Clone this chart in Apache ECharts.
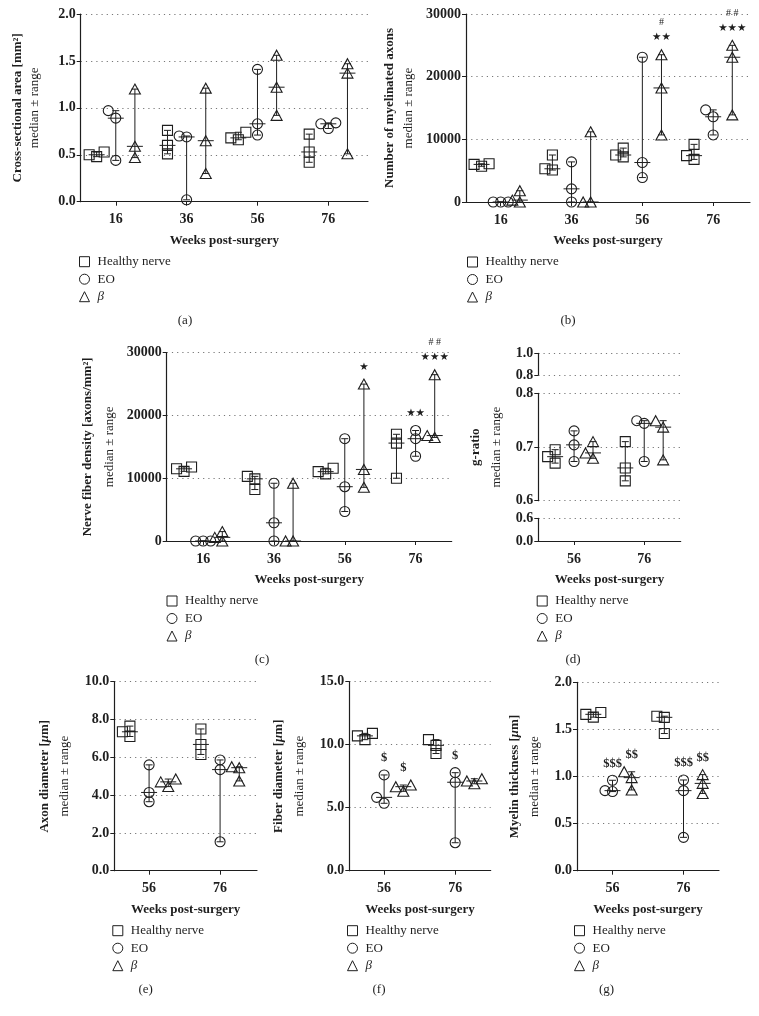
<!DOCTYPE html>
<html>
<head>
<meta charset="utf-8">
<script src="https://cdn.jsdelivr.net/npm/echarts@6/dist/echarts.min.js"></script>
<style>
  html, body { margin: 0; padding: 0; background: #fff; }
  #chart { width: 759px; height: 1016px; }
</style>
</head>
<body>
<div id="chart"></div>
<script>
// groups and time points
const groupNames = ['Healthy nerve', 'EO', 'β'];
const weeksLong = [16, 36, 56, 76];
const weeksShort = [56, 76];

// (a) cross-sectional area [mm²], 3 animals per group and week
const csaHealthy = [[0.48, 0.50, 0.53], [0.51, 0.76, 0.60], [0.66, 0.68, 0.74], [0.42, 0.72, 0.53]];
const csaEO = [[0.97, 0.44, 0.89], [0.69, 0.02, 0.70], [0.71, 1.41, 0.83], [0.84, 0.78, 0.83]];
const csaBeta = [[0.47, 1.20, 0.59], [1.21, 0.65, 0.30], [1.56, 1.22, 0.92], [1.47, 0.51, 1.37]];

// (b) number of myelinated axons
const axHealthy = [[5700, 6000, 6100], [5100, 7500, 5300], [7200, 7500, 8600], [6800, 9200, 7400]];
const axEO = [[0, 0, 0], [0, 6400, 2100], [3900, 23100, 6300], [14700, 10700, 13600]];
const axBeta = [[0, 300, 1800], [0, 11200, 0], [23500, 18200, 10700], [25000, 13900, 23100]];

// (c) nerve fiber density [axons/mm²]
const fdHealthy = [[11100, 11500, 11800], [8200, 9900, 10300], [10700, 11050, 11600], [17000, 10000, 15600]];
const fdEO = [[0, 0, 0], [9200, 2900, 0], [16300, 8650, 4700], [17600, 13500, 16300]];
const fdBeta = [[0, 580, 1500], [0, 9200, 0], [25000, 11400, 8550], [16500, 26500, 16800]];

// (d) g-ratio
const grHealthy = [[0.670, 0.682, 0.695], [0.637, 0.710, 0.661]];
const grEO = [[0.730, 0.673, 0.704], [0.749, 0.673, 0.744]];
const grBeta = [[0.679, 0.710, 0.689], [0.749, 0.676, 0.737]];

// (e) axon diameter [µm]
const adHealthy = [[7.10, 7.35, 7.65], [6.15, 7.50, 6.68]];
const adEO = [[3.65, 5.60, 4.14], [5.86, 1.53, 5.35]];
const adBeta = [[4.45, 4.70, 4.85], [4.75, 5.45, 5.50]];

// (f) fiber diameter [µm]
const fbHealthy = [[10.4, 10.7, 10.9], [9.3, 9.95, 10.4]];
const fbEO = [[5.35, 7.60, 5.82], [7.78, 2.22, 7.02]];
const fbBeta = [[6.30, 6.67, 6.80], [6.90, 7.12, 7.30]];

// (g) myelin thickness [µm]
const mtHealthy = [[1.63, 1.66, 1.68], [1.64, 1.456, 1.628]];
const mtEO = [[0.84, 0.85, 0.96], [0.963, 0.354, 0.85]];
const mtBeta = [[0.857, 1.05, 0.988], [0.82, 1.02, 0.927]];

// significance marks (group index into groupNames)
const annB = [{ week: 56, group: 2, marks: ['★★', '#'] }, { week: 76, group: 2, marks: ['★★★', '# #'] }];
const annC = [{ week: 56, group: 2, marks: ['★'] }, { week: 76, group: 1, marks: ['★★'] }, { week: 76, group: 2, marks: ['★★★', '# #'] }];
const annF = [{ week: 56, group: 1, marks: ['$'] }, { week: 56, group: 2, marks: ['$'] }, { week: 76, group: 1, marks: ['$'] }];
const annG = [{ week: 56, group: 1, marks: ['$$$'] }, { week: 56, group: 2, marks: ['$$'] }, { week: 76, group: 1, marks: ['$$$'] }, { week: 76, group: 2, marks: ['$$'] }];

const ink = '#1e1e1e';
const serif = '"Liberation Serif", "Times New Roman", serif';
const shift = [-5.4, 0, 5.4];           // sub-group offset around the week, in weeks
const symbols = ['rect', 'circle', 'triangle'];
const symbolSizes = [10, 10, [11, 10]];

const panels = [
    { label: '(a)', labelX: 185, legendX: 84, titleX: [17.3, 35], title: '{b|Cross-sectional area [mm²]}',
      weeks: weeksLong, data: [csaHealthy, csaEO, csaBeta], ann: [], left: 80.7, width: 287.3, xMin: 6.1, xMax: 87.2, digits: 1,
      segs: [{ top: 14, height: 187.7, min: 0, max: 2, interval: 0.5, data: true, axis: true }] },
    { label: '(b)', labelX: 568, legendX: 472, titleX: [390, 408.3], title: '{b|Number of myelinated axons}',
      weeks: weeksLong, data: [axHealthy, axEO, axBeta], ann: annB, left: 466, width: 284, xMin: 6.2, xMax: 86.4, digits: 0,
      segs: [{ top: 14, height: 188, min: 0, max: 30000, interval: 10000, data: true, axis: true }] },
    { label: '(c)', labelX: 262, legendX: 171.5, titleX: [87.3, 110], title: '{b|Nerve fiber density [axons/mm²]}',
      weeks: weeksLong, data: [fdHealthy, fdEO, fdBeta], ann: annC, left: 166.7, width: 285, xMin: 5.7, xMax: 86.2, digits: 0,
      segs: [{ top: 352.7, height: 188.3, min: 0, max: 30000, interval: 10000, data: true, axis: true }] },
    { label: '(d)', labelX: 573, legendX: 541.7, titleX: [476, 496.7], title: '{b|g-ratio}',
      weeks: weeksShort, data: [grHealthy, grEO, grBeta], ann: [], left: 538.3, width: 142.4, xMin: 45.8, xMax: 86.4, digits: 1,
      segs: [
          { top: 353.3, height: 21.7, min: 0.8, max: 1.0, interval: 0.2 },
          { top: 393.3, height: 107.4, min: 0.6, max: 0.8, interval: 0.1, data: true },
          { top: 518.3, height: 22.7, min: 0, max: 0.6, interval: 0.6, axis: true }
      ] },
    { label: '(e)', labelX: 145.7, legendX: 117.3, titleX: [45, 65], title: '{b|Axon diameter [}{bi|μ}{b|m]}',
      weeks: weeksShort, data: [adHealthy, adEO, adBeta], ann: [], left: 114.3, width: 142.7, xMin: 46.2, xMax: 86.4, digits: 1,
      segs: [{ top: 681.7, height: 189, min: 0, max: 10, interval: 2, data: true, axis: true }] },
    { label: '(f)', labelX: 379, legendX: 352, titleX: [278.3, 299.3], title: '{b|Fiber diameter [}{bi|μ}{b|m]}',
      weeks: weeksShort, data: [fbHealthy, fbEO, fbBeta], ann: annF, left: 349.3, width: 141.4, xMin: 46.2, xMax: 86, digits: 1,
      segs: [{ top: 681.7, height: 189, min: 0, max: 15, interval: 5, data: true, axis: true }] },
    { label: '(g)', labelX: 606.5, legendX: 579, titleX: [515, 534.3], title: '{b|Myelin thickness [}{bi|μ}{b|m]}',
      weeks: weeksShort, data: [mtHealthy, mtEO, mtBeta], ann: annG, left: 577, width: 142, xMin: 46, xMax: 86, digits: 1,
      segs: [{ top: 682.3, height: 188.4, min: 0, max: 2, interval: 0.5, data: true, axis: true }] }
];

const grid = [], xAxis = [], yAxis = [], series = [], legend = [], graphic = [];

function median(vals) {
    const s = vals.slice().sort((a, b) => a - b);
    return s[Math.floor(s.length / 2)];
}

// small beeswarm: symbols closer than ~8px are pushed to one side (pixel offsets -> weeks)
function swarm(vals, pxX, pxY) {
    const placed = [];
    const offs = vals.map(() => 0);
    const order = vals.map((v, i) => i).sort((i, j) => vals[i] - vals[j]);
    order.forEach(i => {
        let pick = 0, best = -1;
        for (const c of [0, -7.5, 7.5]) {
            const d = Math.min(Infinity, ...placed.map(p => Math.hypot(p.x - c, (p.v - vals[i]) * pxY)));
            if (d >= 8) { pick = c; break; }
            if (d > best) { best = d; pick = c; }
        }
        placed.push({ x: pick, v: vals[i] });
        offs[i] = pick / pxX;
    });
    return offs;
}

function markFont(m) {
    if (m.indexOf('★') >= 0) return { fontFamily: '"DejaVu Sans", sans-serif', fontSize: 10.5 };
    if (m.indexOf('#') >= 0) return { fontFamily: serif, fontSize: 10 };
    return { fontFamily: serif, fontSize: 12.5, fontWeight: 'bold' };
}

panels.forEach(p => {
    let dataIdx = 0, bottom = 0;
    p.segs.forEach(seg => {
        const gi = grid.length;
        grid.push({ left: p.left, top: seg.top, width: p.width, height: seg.height, containLabel: false });
        if (seg.data) dataIdx = gi;
        if (seg.axis) bottom = seg.top + seg.height;
        xAxis.push({
            gridIndex: gi, type: 'value', min: p.xMin, max: p.xMax, show: !!seg.axis,
            axisLine: { show: true, onZero: false, lineStyle: { color: ink, width: 1.2 } },
            axisTick: { show: true, length: 4, customValues: p.weeks, lineStyle: { color: ink, width: 1 } },
            axisLabel: { customValues: p.weeks, margin: 11, color: ink, fontFamily: serif, fontWeight: 'bold', fontSize: 14 },
            splitLine: { show: false },
            name: seg.axis ? 'Weeks post-surgery' : '', nameLocation: 'middle', nameGap: 32,
            nameTextStyle: { color: ink, fontFamily: serif, fontWeight: 'bold', fontSize: 13 }
        });
        yAxis.push({
            gridIndex: gi, type: 'value', min: seg.min, max: seg.max, interval: seg.interval,
            axisLine: { show: true, lineStyle: { color: ink, width: 1.2 } },
            axisTick: { show: true, length: 4, lineStyle: { color: ink, width: 1 } },
            axisLabel: { margin: 5, color: ink, fontFamily: serif, fontWeight: 'bold', fontSize: 14,
                         formatter: v => v.toFixed(p.digits) },
            splitLine: { show: true, lineStyle: { color: '#777', width: 1, type: [1.2, 4] } }
        });
    });

    const dseg = p.segs.find(s => s.data);
    const pxX = p.width / (p.xMax - p.xMin);
    const pxY = dseg.height / (dseg.max - dseg.min);
    const bars = [];

    groupNames.forEach((name, j) => {
        const pts = [];
        p.weeks.forEach((w, k) => {
            const vals = p.data[j][k];
            const offs = swarm(vals, pxX, pxY);
            vals.forEach((v, i) => pts.push([w + shift[j] + offs[i], v]));
            bars.push([w + shift[j], Math.min(...vals), median(vals), Math.max(...vals)]);
        });
        series.push({
            type: 'scatter', name, xAxisIndex: dataIdx, yAxisIndex: dataIdx, data: pts,
            symbol: symbols[j], symbolSize: symbolSizes[j], z: 3, silent: true,
            itemStyle: { color: 'rgba(0,0,0,0)', borderColor: ink, borderWidth: 1.1, opacity: 1 }
        });
    });

    // median line with range whiskers
    series.push({
        type: 'custom', xAxisIndex: dataIdx, yAxisIndex: dataIdx, data: bars, silent: true, z: 2,
        renderItem: (params, api) => {
            const x = api.value(0);
            const lo = api.coord([x, api.value(1)]);
            const md = api.coord([x, api.value(2)]);
            const hi = api.coord([x, api.value(3)]);
            const ln = (x1, y1, x2, y2) => ({ type: 'line', shape: { x1, y1, x2, y2 }, style: { stroke: ink, lineWidth: 1 } });
            return { type: 'group', children: [
                ln(lo[0], lo[1], hi[0], hi[1]),
                ln(lo[0] - 3.5, lo[1], lo[0] + 3.5, lo[1]),
                ln(hi[0] - 3.5, hi[1], hi[0] + 3.5, hi[1]),
                ln(md[0] - 8, md[1], md[0] + 8, md[1])
            ] };
        }
    });

    if (p.ann.length) {
        series.push({
            type: 'custom', xAxisIndex: dataIdx, yAxisIndex: dataIdx, silent: true, z: 4,
            data: p.ann.map(a => [a.week + shift[a.group], Math.max(...p.data[a.group][p.weeks.indexOf(a.week)])]),
            renderItem: (params, api) => {
                const a = p.ann[params.dataIndex];
                const pt = api.coord([api.value(0), api.value(1)]);
                return { type: 'group', children: a.marks.map((m, i) => ({
                    type: 'text', x: pt[0], y: pt[1] - 17 - 15 * i,
                    style: Object.assign({ text: m, fill: ink, align: 'center', verticalAlign: 'middle' }, markFont(m))
                })) };
            }
        });
    }

    legend.push({
        orient: 'vertical', left: p.legendX - 5, top: bottom + 59.5 - 6, padding: 0,
        itemWidth: 10, itemHeight: 10, itemGap: 4.5, selectedMode: false,
        data: [{ name: 'Healthy nerve', icon: 'rect' }, { name: 'EO', icon: 'circle' }, { name: 'β', icon: 'triangle' }],
        itemStyle: { color: 'rgba(0,0,0,0)', borderColor: ink, borderWidth: 1 },
        formatter: n => (n === 'β' ? '{i|β}' : n),
        textStyle: { color: ink, fontFamily: serif, fontSize: 13, padding: [0, 0, 0, 3],
                     rich: { i: { fontStyle: 'italic', fontFamily: serif, fontSize: 13, color: ink } } }
    });

    const top = p.segs[0].top;
    const midY = (top + bottom) / 2;
    graphic.push({
        type: 'text', x: p.titleX[0], y: midY, rotation: Math.PI / 2,
        style: { text: p.title, align: 'center', verticalAlign: 'middle', fill: ink,
                 rich: { b: { fontFamily: serif, fontWeight: 'bold', fontSize: 13, fill: ink },
                         bi: { fontFamily: serif, fontWeight: 'bold', fontStyle: 'italic', fontSize: 13, fill: ink } } }
    });
    graphic.push({
        type: 'text', x: p.titleX[1], y: midY, rotation: Math.PI / 2,
        style: { text: 'median ± range', align: 'center', verticalAlign: 'middle', fill: ink,
                 fontFamily: serif, fontSize: 13 }
    });
    graphic.push({
        type: 'text', x: p.labelX, y: bottom + 119,
        style: { text: p.label, align: 'center', verticalAlign: 'middle', fill: ink, fontFamily: serif, fontSize: 13 }
    });
});

const chart = echarts.init(document.getElementById('chart'));
chart.setOption({
    backgroundColor: '#fff',
    animation: false,
    grid, xAxis, yAxis, series, legend, graphic
});
</script>
</body>
</html>
